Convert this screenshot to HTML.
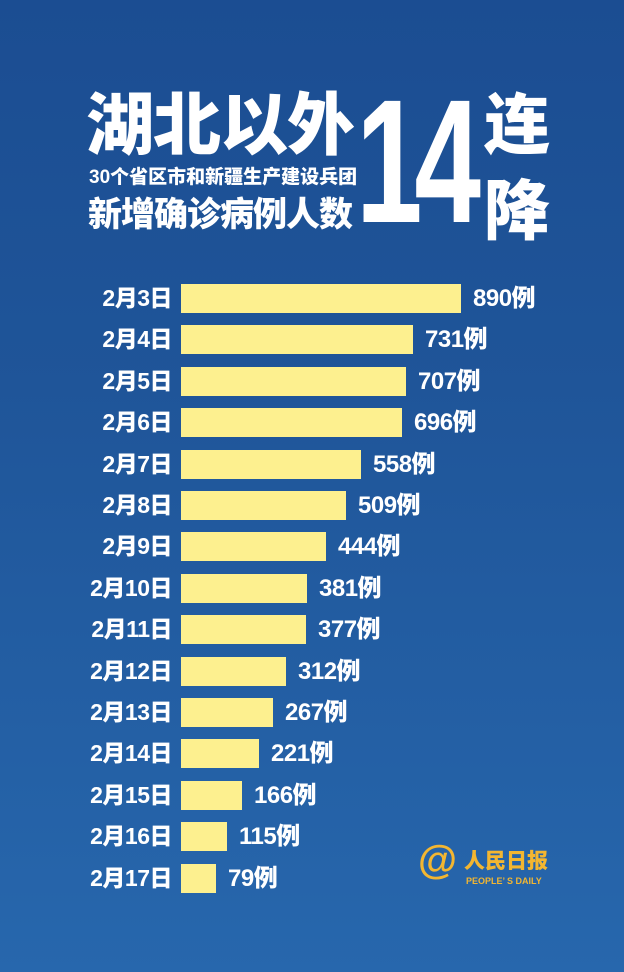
<!DOCTYPE html>
<html><head><meta charset="utf-8"><style>
body{margin:0;width:624px;height:972px;overflow:hidden;background:linear-gradient(180deg,#1b4d92 0%,#1f5599 40%,#2767ad 100%);font-family:"Liberation Sans","Noto Sans CJK SC",sans-serif;color:#fff;position:relative}
.a{position:absolute;font-weight:900;white-space:nowrap}
.bar{position:absolute;left:181px;height:29px;background:#fdf08f}
.d{position:absolute;right:452px;font-size:23px;font-weight:900;line-height:29px;letter-spacing:-0.5px}
.v{position:absolute;font-size:24px;font-weight:900;line-height:29px;letter-spacing:-0.5px}
</style></head><body>
<div class="a" style="left:86px;top:86px;font-size:68px;letter-spacing:-1px;line-height:80px">湖北以外</div>
<div class="a" style="left:89px;top:166px;font-size:19px;line-height:24px">30个省区市和新疆生产建设兵团</div>
<div class="a" style="left:88px;top:194px;font-size:34px;line-height:42px;letter-spacing:-1px">新增确诊病例人数</div>
<div class="a" style="left:356px;top:74px;font-size:176px;line-height:176px;letter-spacing:-12px;font-family:'Liberation Sans',sans-serif;transform:scaleX(0.68);transform-origin:left">14</div>
<div class="a" style="left:484px;top:90px;font-size:66px;line-height:70px">连</div>
<div class="a" style="left:484px;top:168px;font-size:66px;line-height:86px">降</div>
<div id="c"></div>
<div class="a" style="left:418px;top:838px;font-size:40px;color:#f3b631;line-height:44px">@</div>
<div class="a" style="left:464px;top:850px;font-size:21px;color:#f3b631;line-height:24px">人民日报</div>
<div class="a" style="left:466px;top:876px;font-size:9px;color:#f3b631;font-weight:bold">PEOPLE’ S DAILY</div>
<script>
var d=[["2月3日",890],["2月4日",731],["2月5日",707],["2月6日",696],["2月7日",558],["2月8日",509],["2月9日",444],["2月10日",381],["2月11日",377],["2月12日",312],["2月13日",267],["2月14日",221],["2月15日",166],["2月16日",115],["2月17日",79]];
var h="";d.forEach(function(r,i){var y=284+i*41.4,w=Math.round(11+r[1]*0.302);
h+='<div class="d" style="top:'+y+'px">'+r[0]+'</div><div class="bar" style="top:'+y+'px;width:'+w+'px"></div><div class="v" style="top:'+y+'px;left:'+(181+w+12)+'px">'+r[1]+'例</div>';});
document.getElementById("c").innerHTML=h;
</script>
</body></html>
